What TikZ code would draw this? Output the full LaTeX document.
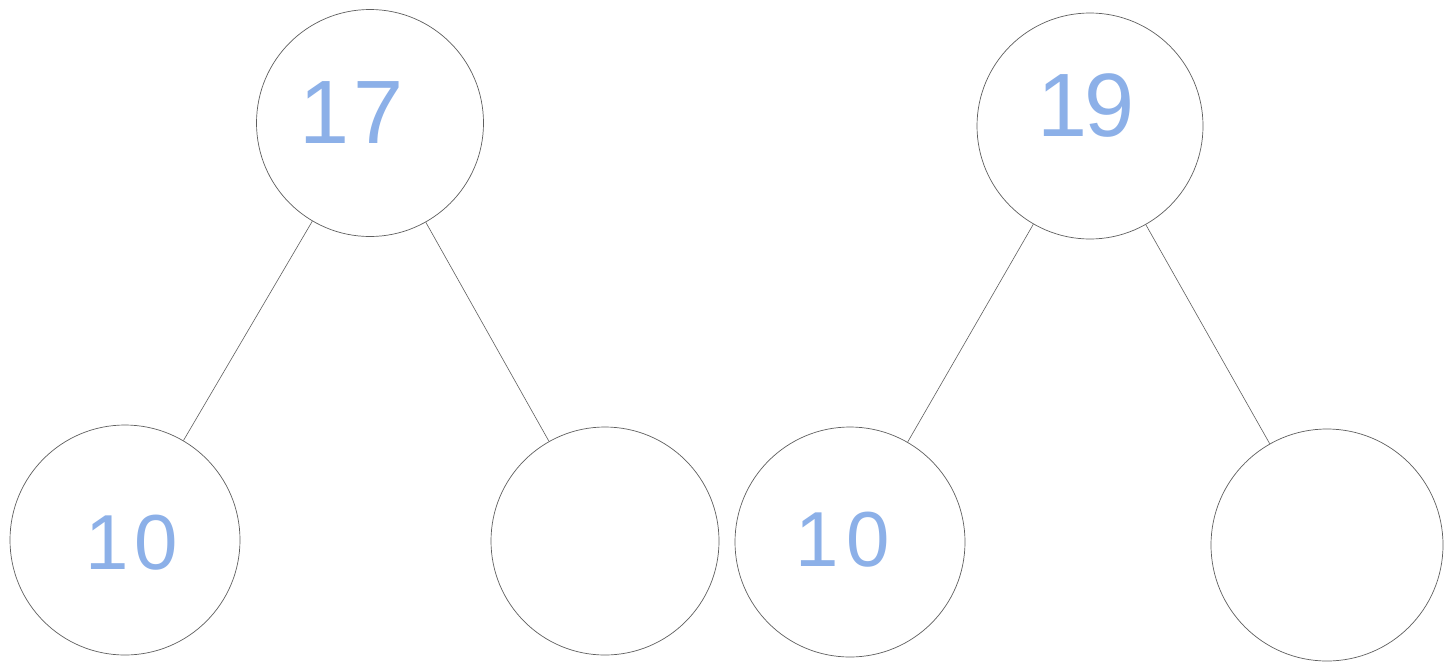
\documentclass[tikz,border=0pt]{standalone}
\usepackage{fontspec}
\setmainfont{Liberation Sans}
\definecolor{handblue}{RGB}{140,176,232}
\definecolor{pencil}{RGB}{95,95,95}
\begin{document}
\begin{tikzpicture}[x=1pt,y=-1pt,
  bond/.style={circle,draw=pencil,line width=0.7pt,inner sep=0pt},
  link/.style={draw=pencil,line width=0.6pt},
  digits/.style={text=handblue,font=\fontsize{90}{90}\selectfont,inner sep=0pt,anchor=center}]
\useasboundingbox (0,0) rectangle (1451,662);
\fill[white] (0,0) rectangle (1451,662);
% left bond
\node[bond,minimum size=227pt] (t1) at (370,123) {};
\node[bond,minimum size=230pt] (l1) at (125,540) {};
\node[bond,minimum size=228pt] (r1) at (605,541) {};
% right bond
\node[bond,minimum size=226pt] (t2) at (1090,126) {};
\node[bond,minimum size=230pt] (l2) at (850,542) {};
\node[bond,minimum size=232pt] (r2) at (1327,545) {};
\draw[link] (t1) -- (l1);
\draw[link] (t1) -- (r1);
\draw[link] (t2) -- (l2);
\draw[link] (t2) -- (r2);
% numbers
\node[digits] (n17) at (352,113) {1\hspace{4pt}7};
\node[digits] (n19) at (1086,106) {1\hspace{-4pt}9};
\node[digits,font=\fontsize{78}{78}\selectfont] (n10a) at (132,543) {1\hspace{6pt}0};
\node[digits,font=\fontsize{78}{78}\selectfont] (n10b) at (843,540) {1\hspace{8pt}0};
\end{tikzpicture}
\end{document}
